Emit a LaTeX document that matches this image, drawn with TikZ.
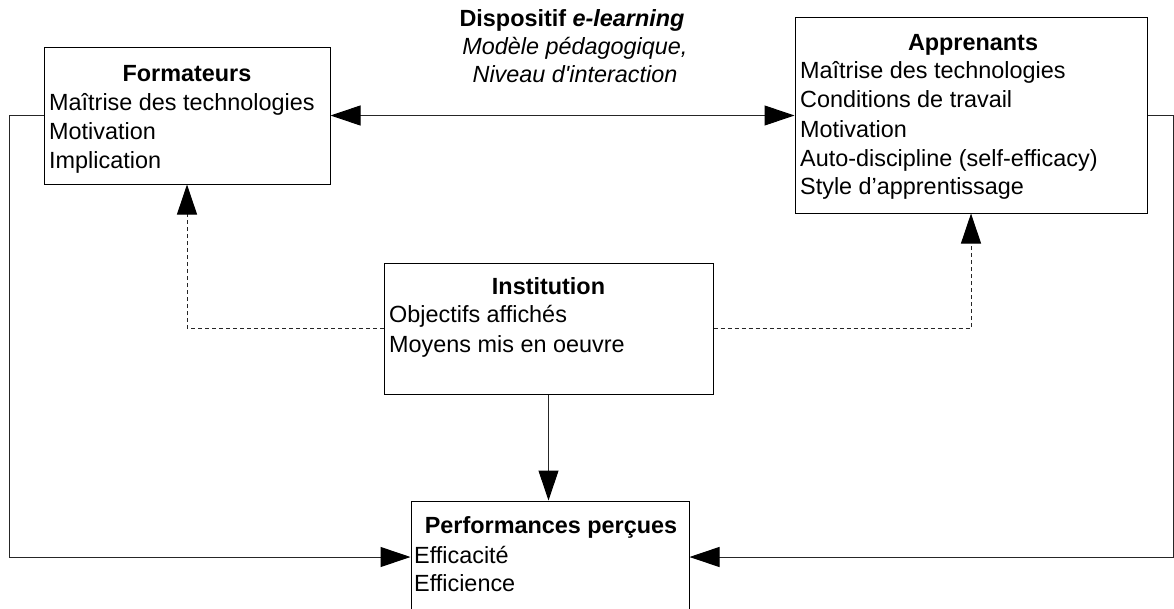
\documentclass[tikz,border=0pt]{standalone}
\usepackage{fontspec}
\setmainfont{Liberation Sans}
\usetikzlibrary{arrows.meta}
\begin{document}
\begin{tikzpicture}[x=1pt,y=-1pt,
  box/.style={draw=black,line width=1pt,inner sep=0pt,fill=white},
  txt/.style={inner sep=0pt,anchor=base west,font=\fontsize{23.4}{28}\selectfont},
  ttl/.style={inner sep=0pt,anchor=base,font=\fontsize{23.4}{28}\selectfont\bfseries},
  lbl/.style={inner sep=0pt,anchor=base,font=\fontsize{23.4}{28}\selectfont},
  conn/.style={line width=1pt,draw=black!85},
  tip/.style={-{Triangle[length=30pt,width=20pt,fill=black,color=black]}},
  dotline/.style={line width=0.9pt,draw=black!85,dash pattern=on 4pt off 3pt}
]
\useasboundingbox (0,0) rectangle (1174,608);
\clip (0,0) rectangle (1174,608);
% boxes
\node[box,minimum width=286pt,minimum height=137pt] (form) at (187,115.5) {};
\node[box,minimum width=352pt,minimum height=196pt] (appr) at (971,115) {};
\node[box,minimum width=329pt,minimum height=131pt] (inst) at (548.5,328.5) {};
\node[box,minimum width=278pt,minimum height=112pt] (perf) at (550,557) {};
\coordinate (lc) at (9,0);
\coordinate (rc) at (1173,0);
% connectors
\draw[conn,{Triangle[length=30pt,width=20pt,fill=black,color=black]}-{Triangle[length=30pt,width=20pt,fill=black,color=black]}] (form.east) -- (form.east -| appr.west);
\draw[conn,tip] (form.west) -- (form.west -| lc) |- (perf.west);
\draw[conn,tip] (appr.east) -- (appr.east -| rc) |- (perf.east);
\draw[conn,tip] (inst.south) -- (inst.south |- perf.north);
\draw[dotline,tip] (inst.west) -| (form.south);
\draw[dotline,tip] (inst.east) -| (appr.south);
% top label
\node[lbl] (dl1) at (572,26) {\textbf{Dispositif \textit{e-learning}}};
\node[lbl] (dl2) at (575,54) {\textit{Modèle pédagogique,}};
\node[lbl] (dl3) at (575,82) {\textit{Niveau d\textquotesingle interaction}};
% Formateurs
\node[ttl] (ft) at (187,81) {Formateurs};
\node[txt] (f1) at (49,110) {Maîtrise des technologies};
\node[txt] (f2) at (49,139) {Motivation};
\node[txt] (f3) at (49,168) {Implication};
% Apprenants
\node[ttl] (at) at (973,50) {Apprenants};
\node[txt] (a1) at (800,78) {Maîtrise des technologies};
\node[txt] (a2) at (800,107) {Conditions de travail};
\node[txt] (a3) at (800,137) {Motivation};
\node[txt] (a4) at (800,166) {Auto-discipline (self-efficacy)};
\node[txt] (a5) at (800,194) {Style d’apprentissage};
% Institution
\node[ttl] (it) at (548.5,294) {Institution};
\node[txt] (i1) at (389,322) {Objectifs affichés};
\node[txt] (i2) at (389,352) {Moyens mis en oeuvre};
% Performances
\node[ttl] (pt) at (551,533) {Performances perçues};
\node[txt] (p1) at (414,563) {Efficacité};
\node[txt] (p2) at (414,591) {Efficience};
\end{tikzpicture}
\end{document}
